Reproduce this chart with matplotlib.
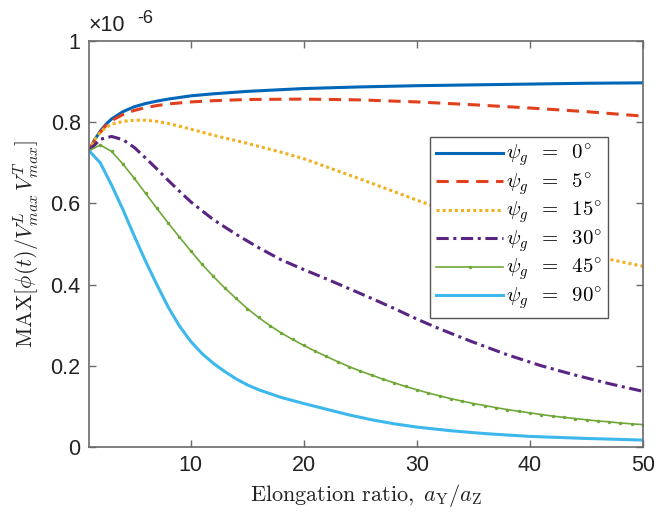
import matplotlib
matplotlib.use("Agg")
import matplotlib.pyplot as plt
import numpy as np

plt.rcParams['mathtext.fontset'] = 'cm'
plt.rcParams['font.family'] = ['Liberation Sans', 'DejaVu Sans']

scale = 1e-6

x_0 = [1, 1.5, 2, 2.5, 3, 4, 5, 6, 7, 8, 10, 12, 15, 20, 25, 30, 35, 40, 45, 50]
y_0 = [0.73, 0.757, 0.778, 0.795, 0.808, 0.826, 0.838, 0.846, 0.852, 0.857, 0.865, 0.870, 0.876, 0.883, 0.887, 0.890, 0.892, 0.894, 0.896, 0.897]

x_5 = [1, 1.5, 2, 2.5, 3, 4, 5, 6, 7, 8, 10, 12, 15, 20, 25, 30, 35, 40, 45, 50]
y_5 = [0.73, 0.755, 0.775, 0.792, 0.804, 0.819, 0.829, 0.836, 0.841, 0.845, 0.850, 0.853, 0.856, 0.857, 0.855, 0.850, 0.843, 0.835, 0.826, 0.815]

x_15 = [1, 1.5, 2, 2.5, 3, 4, 5, 6, 7, 8, 10, 12, 15, 18, 20, 25, 30, 35, 40, 45, 50]
y_15 = [0.73, 0.757, 0.775, 0.787, 0.795, 0.802, 0.805, 0.805, 0.802, 0.797, 0.783, 0.768, 0.748, 0.726, 0.71, 0.66, 0.608, 0.558, 0.512, 0.474, 0.445]

x_30 = [1, 2, 3, 4, 5, 6, 7, 8, 9, 10, 12, 14, 16, 18, 20, 22, 24, 26, 28, 30, 32, 35, 38, 41, 44, 47, 50]
y_30 = [0.73, 0.758, 0.765, 0.757, 0.738, 0.712, 0.685, 0.657, 0.63, 0.604, 0.56, 0.524, 0.491, 0.461, 0.437, 0.414, 0.39, 0.366, 0.341, 0.315, 0.291, 0.258, 0.227, 0.2, 0.177, 0.156, 0.137]

x_45 = list(range(1, 51))
y_45 = [0.730, 0.744, 0.728, 0.697, 0.662, 0.625, 0.588, 0.552, 0.517, 0.483,
        0.450, 0.420, 0.392, 0.366, 0.341, 0.319, 0.299, 0.281, 0.265, 0.250,
        0.236, 0.223, 0.210, 0.198, 0.187, 0.177, 0.167, 0.158, 0.149, 0.141,
        0.133, 0.126, 0.119, 0.113, 0.107, 0.102, 0.097, 0.092, 0.088, 0.084,
        0.080, 0.076, 0.073, 0.070, 0.067, 0.064, 0.062, 0.059, 0.057, 0.055]

x_90 = [1, 2, 3, 4, 5, 6, 7, 8, 9, 10, 11, 12, 13, 14, 15, 16, 18, 20, 22, 24, 26, 28, 30, 33, 36, 40, 45, 50]
y_90 = [0.73, 0.70, 0.645, 0.585, 0.52, 0.458, 0.40, 0.345, 0.298, 0.26, 0.23, 0.206, 0.186, 0.168, 0.153, 0.141, 0.122, 0.107, 0.093, 0.079, 0.067, 0.057, 0.049, 0.040, 0.033, 0.026, 0.021, 0.017]

labels = [r'$\psi_g\;\;=\;\;0^{\circ}$', r'$\psi_g\;\;=\;\;5^{\circ}$', r'$\psi_g\;\;=\;\;15^{\circ}$',
          r'$\psi_g\;\;=\;\;30^{\circ}$', r'$\psi_g\;\;=\;\;45^{\circ}$', r'$\psi_g\;\;=\;\;90^{\circ}$']

fig = plt.figure(figsize=(6.72, 5.13), dpi=100)
ax = fig.add_axes([0.1324, 0.1287, 0.957 - 0.1324, 0.920 - 0.1287])

def s(v):
    return np.array(v) * scale

ax.plot(x_0, s(y_0), color='#0066B8', lw=2.2, label=labels[0])
ax.plot(x_5, s(y_5), color='#E0401C', lw=2.2, ls=(0, (4, 2.5)), label=labels[1])
ax.plot(x_15, s(y_15), color='#F0B020', lw=2.2, ls=(0, (1, 1)), label=labels[2])
ax.plot(x_30, s(y_30), color='#5A2482', lw=2.2, ls=(0, (4, 1.5, 1, 1.5)), label=labels[3])
ax.plot(x_45, s(y_45), color='#6FA838', lw=1.2, marker='.', ms=3, label=labels[4])
ax.plot(x_90, s(y_90), color='#3DB8EC', lw=2.2, label=labels[5])

ax.set_xlim(1, 50)
ax.set_ylim(0, 1e-6)
ax.set_xticks([10, 20, 30, 40, 50])
ax.set_xticklabels(['10', '20', '30', '40', '50'])
yt = [0, 0.2, 0.4, 0.6, 0.8, 1.0]
ax.set_yticks(s(yt))
ax.set_yticklabels(['0', '0.2', '0.4', '0.6', '0.8', '1'])

axcol = '#6a6a6a'
for sp in ax.spines.values():
    sp.set_color(axcol)
    sp.set_linewidth(1.2)
ax.tick_params(direction='in', top=True, right=True, length=5, width=1, color=axcol,
               labelsize=15.5, labelcolor='#222222', pad=6)

ax.set_xlabel(r'$\mathrm{Elongation\ ratio,}\ a_{\mathrm{Y}}/a_{\mathrm{Z}}$', fontsize=16, labelpad=4, color='#222222')
ax.set_ylabel(r'$\mathrm{MAX}[\phi(t)/V^{L}_{max}\,V^{T}_{max}]$', fontsize=16, labelpad=6, color='#222222')

ax.text(0.0, 1.012, '×10', transform=ax.transAxes, fontsize=15.5, color='#222222', ha='left', va='bottom')
ax.text(0.088, 1.035, '-6', transform=ax.transAxes, fontsize=13, color='#222222', ha='left', va='bottom')

leg = ax.legend(loc='upper right', bbox_to_anchor=(0.937, 0.764), fontsize=15,
                handlelength=3.2, handletextpad=0.15, labelspacing=0.12,
                borderpad=0.3, borderaxespad=0, fancybox=False, framealpha=1, edgecolor='#555555')
leg.get_frame().set_linewidth(1.0)

fig.savefig('out.png', dpi=100)
